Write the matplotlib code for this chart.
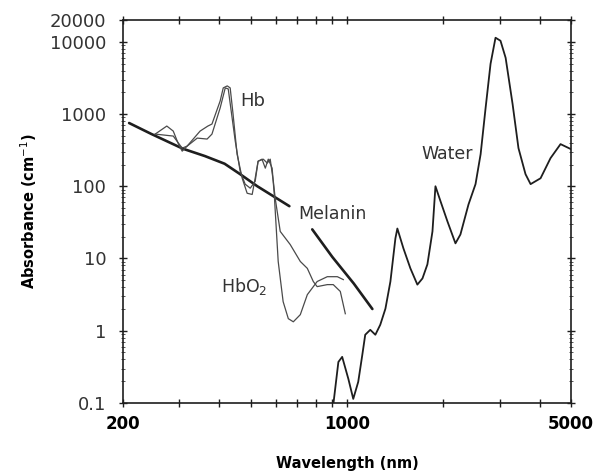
import matplotlib
matplotlib.use("Agg")
import matplotlib.pyplot as plt
from matplotlib.ticker import FixedLocator, NullFormatter, LogLocator

plt.rcParams['font.family'] = ['DejaVu Sans']

# ---- data (wavelength nm, absorbance cm^-1) ----
melanin_wl_a = [209, 245, 308, 360, 415, 464, 525, 661]
melanin_ab_a = [750, 530, 330, 262, 205, 147, 100, 53]
melanin_wl_b = [779, 900, 1050, 1200]
melanin_ab_b = [25.3, 10.5, 4.5, 2.0]

hb_wl = [252, 274, 287, 297, 306, 317, 348, 368, 379, 402, 411, 423, 432, 441,
         454, 471, 488, 506, 517, 528, 548, 564, 576, 589, 597, 619, 665, 715,
         752, 785, 807, 868, 906, 953, 988]
hb_ab = [527, 681, 580, 396, 306, 359, 580, 681, 726, 1514, 2297, 2449, 2297,
         1000, 278, 129, 80, 77, 129, 222, 237, 209, 237, 117, 68, 23.7, 15.6,
         9.1, 7.3, 4.8, 4.08, 4.35, 4.35, 3.5, 1.72]

hbo2_wl = [252, 287, 306, 317, 341, 366, 379, 402, 417, 426, 448, 464, 481,
           499, 517, 528, 543, 556, 568, 584, 593, 610, 632, 656, 680, 715,
           752, 807, 868, 933, 974]
hbo2_ab = [527, 495, 337, 359, 464, 450, 527, 1212, 2297, 2225, 422, 162, 107,
           94, 117, 222, 237, 178, 237, 178, 77, 9.1, 2.53, 1.47, 1.33, 1.67,
           3.16, 4.8, 5.6, 5.6, 5.1]

water_wl = [905, 940, 966, 1010, 1046, 1084, 1116, 1140, 1182, 1226, 1270,
            1318, 1366, 1416, 1436, 1500, 1577, 1658, 1720, 1782, 1848, 1888,
            1958, 2058, 2180, 2259, 2394, 2518, 2612, 2707, 2805, 2907, 3013,
            3126, 3286, 3428, 3606, 3740, 4018, 4316, 4638, 5000]
water_ab = [0.09, 0.37, 0.435, 0.215, 0.114, 0.196, 0.46, 0.88, 1.03, 0.88,
            1.21, 2.02, 4.8, 19, 26, 13.8, 7.3, 4.35, 5.3, 8.3, 23.7, 100, 62,
            32.6, 16.2, 21.5, 56, 107, 278, 1212, 4946, 11370, 10320, 5995,
            1377, 337, 147, 107, 129, 245, 383, 326]

x_ticks = [200, 300, 400, 500, 600, 700, 800, 900, 1000, 2000, 3000, 4000, 5000]
x_labels = ['200', '', '', '', '', '', '', '', '1000', '', '', '', '5000']
y_ticks = [0.1, 1, 10, 100, 1000, 10000, 20000]
y_labels = ['0.1', '1', '10', '100', '1000', '10000', '20000']

# ---- figure ----
fig = plt.figure(figsize=(5.93, 4.74), dpi=100)
ax = fig.add_axes([0.2074, 0.1498, 0.7555, 0.808])
ax.set_xscale('log')
ax.set_yscale('log')
ax.set_xlim(200, 5000)
ax.set_ylim(0.1, 20000)

ink = '#1e1e1e'
ax.plot(melanin_wl_a, melanin_ab_a, color=ink, lw=1.9, solid_capstyle='round')
ax.plot(melanin_wl_b, melanin_ab_b, color=ink, lw=1.9, solid_capstyle='round')
ax.plot(hb_wl, hb_ab, color='#4a4a4a', lw=0.9)
ax.plot(hbo2_wl, hbo2_ab, color='#4a4a4a', lw=0.9)
ax.plot(water_wl, water_ab, color=ink, lw=1.3)

ax.xaxis.set_major_locator(FixedLocator(x_ticks))
ax.set_xticklabels(x_labels)
ax.xaxis.set_minor_formatter(NullFormatter())
ax.xaxis.set_minor_locator(FixedLocator([]))
ax.yaxis.set_major_locator(FixedLocator(y_ticks))
ax.set_yticklabels(y_labels)
ax.yaxis.set_minor_locator(LogLocator(base=10, subs=[2, 3, 4, 5, 6, 7, 8, 9]))
ax.yaxis.set_minor_formatter(NullFormatter())

ax.tick_params(axis='both', which='major', direction='inout', length=6, width=1.0,
               color=ink, top=True, right=True)
ax.tick_params(axis='both', which='minor', direction='inout', length=3, width=0.7,
               color='#555555', top=True, right=True)
ax.tick_params(axis='x', labelsize=12, pad=6)
ax.tick_params(axis='y', labelsize=13, pad=9, labelcolor='#333333')
for lab in ax.get_xticklabels():
    lab.set_fontweight('bold')
for sp in ax.spines.values():
    sp.set_linewidth(1.2)
    sp.set_color(ink)

ax.set_xlabel('Wavelength (nm)', fontsize=10.5, fontweight='bold', labelpad=16)
ax.set_ylabel('Absorbance (cm$^{-1}$)', fontsize=10.5, fontweight='bold', labelpad=8)

ax.text(509, 1500, 'Hb', fontsize=13, color='#333333', ha='center', va='center')
ax.text(900, 41, 'Melanin', fontsize=12.5, color='#333333', ha='center', va='center')
ax.text(2058, 278, 'Water', fontsize=12.5, color='#333333', ha='center', va='center')
ax.text(478, 4.1, 'HbO$_2$', fontsize=12.5, color='#333333', ha='center', va='center')

fig.savefig('out.png', dpi=100, facecolor='white')
